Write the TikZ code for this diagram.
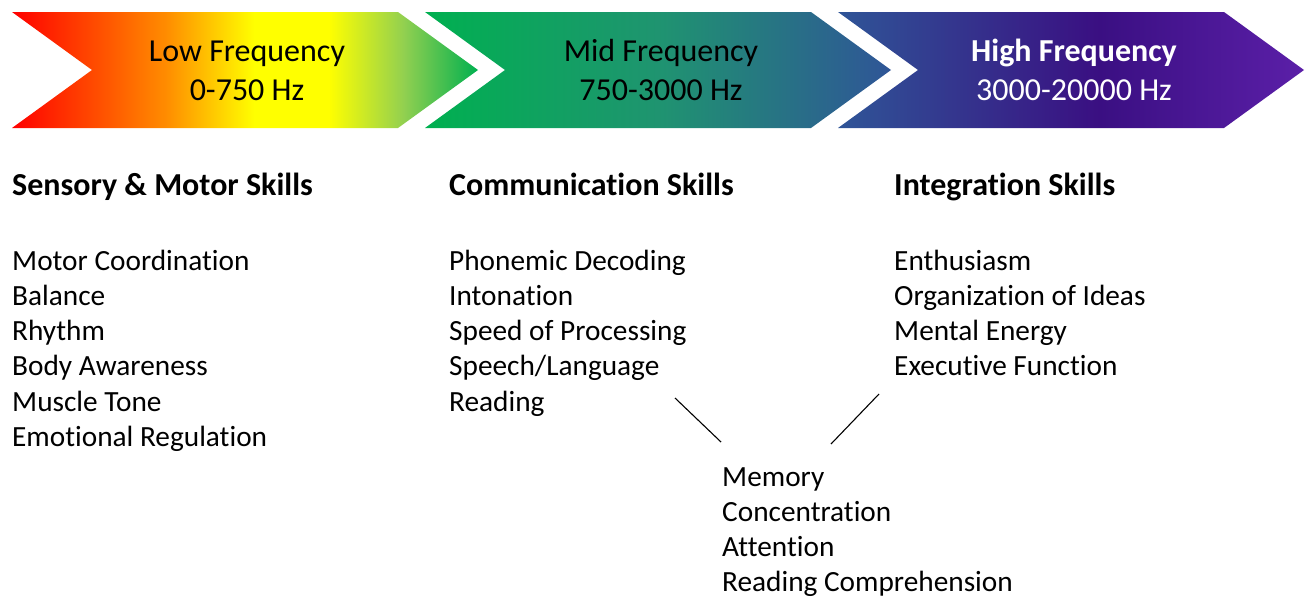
\documentclass[tikz,border=0pt]{standalone}
\usepackage{fontspec}
\setmainfont{Carlito}[Ligatures=NoCommon]
\usetikzlibrary{positioning, calc}

\definecolor{lforange}{HTML}{FF8C00}
\definecolor{lfyellow}{HTML}{FFFF00}
\definecolor{lflime}{HTML}{92D050}
\definecolor{bandgreen}{HTML}{00B050}
\definecolor{bandteal}{HTML}{1F9470}
\definecolor{bandblue}{HTML}{2F5597}
\definecolor{bandnight}{HTML}{3A0F82}
\definecolor{bandviolet}{HTML}{5B1FA8}

% colour ramps for the three frequency bands
\pgfdeclarehorizontalshading{lowband}{100bp}{color(0bp)=(red); color(25bp)=(red); color(41.5bp)=(lforange); color(51bp)=(lfyellow); color(59bp)=(lfyellow); color(67bp)=(lflime); color(75bp)=(bandgreen); color(100bp)=(bandgreen)}
\pgfdeclarehorizontalshading{midband}{100bp}{color(0bp)=(bandgreen); color(25bp)=(bandgreen); color(50bp)=(bandteal); color(75bp)=(bandblue); color(100bp)=(bandblue)}
\pgfdeclarehorizontalshading{highband}{100bp}{color(0bp)=(bandblue); color(25bp)=(bandblue); color(53bp)=(bandnight); color(75bp)=(bandviolet); color(100bp)=(bandviolet)}

\tikzset{
  txt/.style={inner sep=0pt, font=\fontsize{29.3}{35}\selectfont},
  item/.style={txt, anchor=base west},
  head/.style={item, font=\fontsize{32}{38}\selectfont\bfseries},
  bandtxt/.style={txt, anchor=base, font=\fontsize{32}{38}\selectfont}
}

\begin{document}
\begin{tikzpicture}[x=1pt, y=-1pt]
\useasboundingbox (0,0) rectangle (1306,597);

% Frequency chevrons
\foreach \i/\shd in {0/lowband, 1/midband, 2/highband} {
    \path[shading=\shd, shift={(\i*413,0)}] (12,12) -- (398,12) -- (478,70) -- (398,128) -- (12,128) -- (92,70) -- cycle;
}
\node[bandtxt] (lowname) at (247,61.7) {Low Frequency};
\node[bandtxt] (lowrange) at (247,100) {0-750 Hz};
\node[bandtxt] (midname) at (661,61.7) {Mid Frequency};
\node[bandtxt] (midrange) at (661,100) {750-3000 Hz};
\node[bandtxt, text=white, font=\fontsize{32}{38}\selectfont\bfseries] (highname) at (1074,61.7) {High Frequency};
\node[bandtxt, text=white] (highrange) at (1074,100) {3000-20000 Hz};

% Skill headings
\node[head] (sensh) at (12,195) {Sensory \& Motor Skills};
\node[head] (commh) at (449,195) {Communication Skills};
\node[head] (integh) at (894,195) {Integration Skills};

% Skill lists
\foreach \txt [count=\k from 0] in {Motor Coordination, Balance, Rhythm, Body Awareness, Muscle Tone, Emotional Regulation}
    \node[item] (sens\k) at (12,270+35.3*\k) {\txt};
\foreach \txt [count=\k from 0] in {Phonemic Decoding, Intonation, Speed of Processing, Speech/Language, Reading}
    \node[item] (comm\k) at (449,270+35.3*\k) {\txt};
\foreach \txt [count=\k from 0] in {Enthusiasm, Organization of Ideas, Mental Energy, Executive Function}
    \node[item] (integ\k) at (894,270+35.3*\k) {\txt};
\foreach \txt [count=\k from 0] in {Memory, Concentration, Attention, Reading Comprehension}
    \node[item] (shared\k) at (722,486.5+35*\k) {\txt};

% links into the shared list
\coordinate (commlink) at (675,398);
\coordinate (integlink) at (879,394);
\coordinate (sharedleft) at (721,442);
\coordinate (sharedright) at (831,444);
\draw[line width=1.1pt] (commlink) -- (sharedleft);
\draw[line width=1.1pt] (integlink) -- (sharedright);

\end{tikzpicture}
\end{document}
